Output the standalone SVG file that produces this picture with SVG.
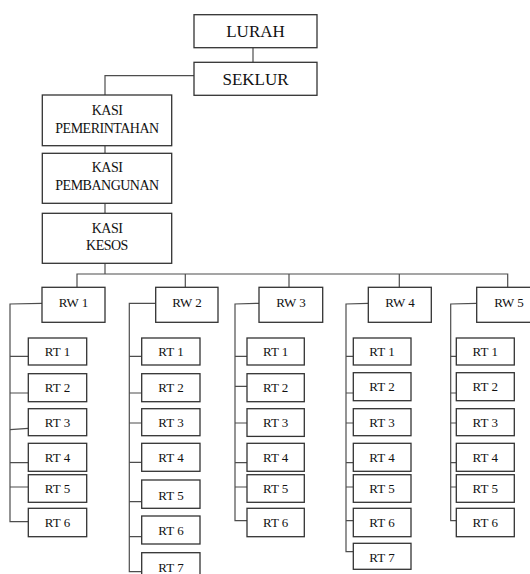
<svg xmlns="http://www.w3.org/2000/svg" width="530" height="574" viewBox="0 0 530 574">
<style>
.b{fill:#fff;stroke:#333;stroke-width:1.3}
.c{fill:none;stroke:#4d4d4d;stroke-width:1.2}
text{font-family:"Liberation Serif","Times New Roman",serif;fill:#111;text-anchor:middle}
.l{font-size:17px}
.k{font-size:14px;letter-spacing:-0.5px}
.r{font-size:13px}
</style>
<rect width="530" height="574" fill="#fff"/>
<g id="connectors" class="c">
<path d="M253,48V62"/>
<path d="M194,75.7H105V95"/>
<path d="M105,145.7V153.3"/>
<path d="M105,203.3V213.3"/>
<path d="M105,263.3V274"/>
<path d="M77,287.3V274H507.7V287.3"/>
<path d="M185.3,274V287.3"/>
<path d="M289,274V287.3"/>
<path d="M399.3,274V287.3"/>
<path d="M42,303.3L10,304V521.7H28.3"/>
<path d="M10,356.3H28.3M10,393H28.3M10,429.7L28.3,428.3M10,462.7H28.3M10,487H28.3"/>
<path d="M155.7,303.3H129.3V571.7H141.7"/>
<path d="M129.3,356.3H141.7M129.3,393H141.7M129.3,423H141.7M129.3,462.3H141.7M129.3,501.7H141.7M129.3,536.7H141.7"/>
<path d="M259,303.3L235,304V520.7H247"/>
<path d="M235,356.3H247M235,386.3H247M235,423H247M235,462.7H247M235,487H247"/>
<path d="M368.3,303.3L346,304V551.7H353.3"/>
<path d="M346,356.3H353.3M346,393H353.3M346,423H353.3M346,462.7H353.3M346,487H353.3M346,520.7H353.3"/>
<path d="M476.7,303.3L450.7,304V520.7H456.3"/>
<path d="M450.7,356.3H456.3M450.7,393H456.3M450.7,423H456.3M450.7,462.7H456.3M450.7,487H456.3"/>
</g>
<g id="lurah"><rect class="b" x="194" y="14.7" width="123" height="33"/><text class="l" x="255.5" y="36.5">LURAH</text></g>
<g id="seklur"><rect class="b" x="194" y="62.3" width="123" height="33"/><text class="l" x="255.5" y="85">SEKLUR</text></g>
<g id="kasi-pemerintahan"><rect class="b" x="42.3" y="95" width="129.4" height="50.7"/><text class="k" x="107" y="114.5">KASI</text><text class="k" x="107" y="132.5">PEMERINTAHAN</text></g>
<g id="kasi-pembangunan"><rect class="b" x="42.3" y="153.3" width="129.4" height="50"/><text class="k" x="107" y="172.3">KASI</text><text class="k" x="107" y="190">PEMBANGUNAN</text></g>
<g id="kasi-kesos"><rect class="b" x="42.3" y="213.3" width="129.4" height="50"/><text class="k" x="107" y="232.5">KASI</text><text class="k" x="107" y="250">KESOS</text></g>
<g id="rw1"><rect class="b" x="42" y="287.3" width="63" height="35"/><text class="r" x="73.5" y="306.5">RW 1</text></g>
<g id="rw2"><rect class="b" x="155.7" y="287.3" width="62.3" height="35"/><text class="r" x="187" y="306.5">RW 2</text></g>
<g id="rw3"><rect class="b" x="259" y="287.3" width="63.7" height="35"/><text class="r" x="291" y="306.5">RW 3</text></g>
<g id="rw4"><rect class="b" x="368.3" y="287.3" width="63" height="35"/><text class="r" x="400" y="306.5">RW 4</text></g>
<g id="rw5"><rect class="b" x="476.7" y="287.3" width="63" height="35"/><text class="r" x="509" y="306.5">RW 5</text></g>
<g id="rw1-rt1"><rect class="b" x="28.3" y="338" width="58.4" height="27"/><text class="r" x="57.5" y="356">RT 1</text></g>
<g id="rw1-rt2"><rect class="b" x="28.3" y="373.7" width="58.4" height="28"/><text class="r" x="57.5" y="392">RT 2</text></g>
<g id="rw1-rt3"><rect class="b" x="28.3" y="408.7" width="58.4" height="27"/><text class="r" x="57.5" y="427">RT 3</text></g>
<g id="rw1-rt4"><rect class="b" x="28.3" y="443.3" width="58.4" height="28"/><text class="r" x="57.5" y="462">RT 4</text></g>
<g id="rw1-rt5"><rect class="b" x="28.3" y="474.7" width="58.4" height="27.6"/><text class="r" x="57.5" y="493">RT 5</text></g>
<g id="rw1-rt6"><rect class="b" x="28.3" y="508.3" width="58.4" height="28.4"/><text class="r" x="57.5" y="527">RT 6</text></g>
<g id="rw2-rt1"><rect class="b" x="141.7" y="338" width="58.3" height="27"/><text class="r" x="171" y="356">RT 1</text></g>
<g id="rw2-rt2"><rect class="b" x="141.7" y="373.7" width="58.3" height="28"/><text class="r" x="171" y="392">RT 2</text></g>
<g id="rw2-rt3"><rect class="b" x="141.7" y="408.7" width="58.3" height="27"/><text class="r" x="171" y="427">RT 3</text></g>
<g id="rw2-rt4"><rect class="b" x="141.7" y="443.3" width="58.3" height="28"/><text class="r" x="171" y="462">RT 4</text></g>
<g id="rw2-rt5"><rect class="b" x="141.7" y="480" width="58.3" height="28.3"/><text class="r" x="171" y="499.5">RT 5</text></g>
<g id="rw2-rt6"><rect class="b" x="141.7" y="516" width="58.3" height="28"/><text class="r" x="171" y="535">RT 6</text></g>
<g id="rw2-rt7"><rect class="b" x="141.7" y="552.7" width="58.3" height="28"/><text class="r" x="171" y="571.5">RT 7</text></g>
<g id="rw3-rt1"><rect class="b" x="247" y="338" width="57.3" height="27"/><text class="r" x="275.7" y="356">RT 1</text></g>
<g id="rw3-rt2"><rect class="b" x="247" y="373.7" width="57.3" height="28"/><text class="r" x="275.7" y="392">RT 2</text></g>
<g id="rw3-rt3"><rect class="b" x="247" y="408.7" width="57.3" height="27.7"/><text class="r" x="275.7" y="427">RT 3</text></g>
<g id="rw3-rt4"><rect class="b" x="247" y="443.3" width="57.3" height="28"/><text class="r" x="275.7" y="462">RT 4</text></g>
<g id="rw3-rt5"><rect class="b" x="247" y="474.7" width="57.3" height="27.6"/><text class="r" x="275.7" y="493">RT 5</text></g>
<g id="rw3-rt6"><rect class="b" x="247" y="508.3" width="57.3" height="28.4"/><text class="r" x="275.7" y="527">RT 6</text></g>
<g id="rw4-rt1"><rect class="b" x="353.3" y="338" width="57.7" height="27"/><text class="r" x="382" y="356">RT 1</text></g>
<g id="rw4-rt2"><rect class="b" x="353.3" y="372.7" width="57.7" height="28"/><text class="r" x="382" y="391">RT 2</text></g>
<g id="rw4-rt3"><rect class="b" x="353.3" y="408.7" width="57.7" height="27"/><text class="r" x="382" y="427">RT 3</text></g>
<g id="rw4-rt4"><rect class="b" x="353.3" y="443.3" width="57.7" height="28"/><text class="r" x="382" y="462">RT 4</text></g>
<g id="rw4-rt5"><rect class="b" x="353.3" y="474.7" width="57.7" height="27.6"/><text class="r" x="382" y="493">RT 5</text></g>
<g id="rw4-rt6"><rect class="b" x="353.3" y="508.3" width="57.7" height="28.4"/><text class="r" x="382" y="527">RT 6</text></g>
<g id="rw4-rt7"><rect class="b" x="353.3" y="543.3" width="57.7" height="26"/><text class="r" x="382" y="561.5">RT 7</text></g>
<g id="rw5-rt1"><rect class="b" x="456.3" y="338" width="58" height="27"/><text class="r" x="485.3" y="356">RT 1</text></g>
<g id="rw5-rt2"><rect class="b" x="456.3" y="372.7" width="58" height="28"/><text class="r" x="485.3" y="391">RT 2</text></g>
<g id="rw5-rt3"><rect class="b" x="456.3" y="408.7" width="58" height="27"/><text class="r" x="485.3" y="427">RT 3</text></g>
<g id="rw5-rt4"><rect class="b" x="456.3" y="443.3" width="58" height="28"/><text class="r" x="485.3" y="462">RT 4</text></g>
<g id="rw5-rt5"><rect class="b" x="456.3" y="474.7" width="58" height="27.6"/><text class="r" x="485.3" y="493">RT 5</text></g>
<g id="rw5-rt6"><rect class="b" x="456.3" y="508.3" width="58" height="28.4"/><text class="r" x="485.3" y="527">RT 6</text></g>
</svg>
